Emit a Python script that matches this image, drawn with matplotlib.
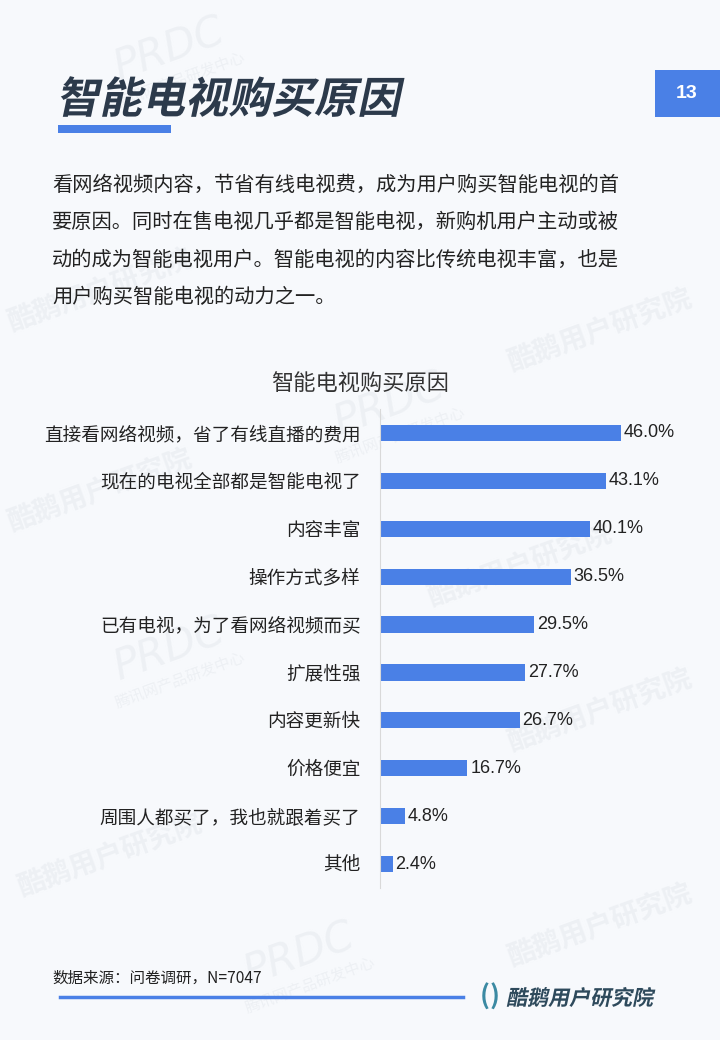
import matplotlib
matplotlib.use('Agg')
import matplotlib.pyplot as plt
from matplotlib.textpath import TextPath
from matplotlib.patches import PathPatch, Rectangle
from matplotlib.font_manager import FontProperties
from matplotlib.transforms import Affine2D
from matplotlib.lines import Line2D

plt.rcParams['font.family'] = ['Noto Sans CJK SC', 'DejaVu Sans']

categories = ['直接看网络视频，省了有线直播的费用', '现在的电视全部都是智能电视了', '内容丰富',
              '操作方式多样', '已有电视，为了看网络视频而买', '扩展性强', '内容更新快',
              '价格便宜', '周围人都买了，我也就跟着买了', '其他']
values = [46.0, 43.1, 40.1, 36.5, 29.5, 27.7, 26.7, 16.7, 4.8, 2.4]

page_title = '智能电视购买原因'
chart_title = '智能电视购买原因'
page_no = '13'
intro = ['看网络视频内容，节省有线电视费，成为用户购买智能电视的首',
         '要原因。同时在售电视几乎都是智能电视，新购机用户主动或被',
         '动的成为智能电视用户。智能电视的内容比传统电视丰富，也是',
         '用户购买智能电视的动力之一。']
source = '数据来源：问卷调研，N=7047'
brand = '酷鹅用户研究院'

W, H = 720, 1040
bg = '#f7f9fc'
blue = '#4a80e6'
dark = '#2c3a4b'

fig = plt.figure(figsize=(W / 100, H / 100), dpi=100, facecolor=bg)


def px(x, y):
    # image pixel coords (top-left origin) -> figure fraction
    return x / W, 1 - y / H


def slanted(text, x, y, size, color, skew=12, weight='bold'):
    fp = FontProperties(family='Noto Sans CJK SC', weight=weight)
    path = TextPath((0, 0), text, size=size, prop=fp)
    tr = Affine2D().skew_deg(skew, 0).translate(x, H - y)
    fig.add_artist(PathPatch(path, transform=tr, facecolor=color, edgecolor='none', zorder=3))


# faint watermarks, behind everything
wm = dict(color='#edf0f4', rotation=20, ha='center', va='center', zorder=-5)
for (x, y) in [(170, 50), (390, 405), (170, 650), (300, 955)]:
    fig.text(*px(x, y), 'PRDC', fontsize=30, family='DejaVu Sans', style='italic', **wm)
    fig.text(*px(x + 10, y + 30), '腾讯网产品研发中心', fontsize=11, **wm)
for (x, y) in [(600, 330), (520, 565), (600, 710), (600, 925), (110, 855), (100, 490), (100, 290)]:
    fig.text(*px(x, y), '酷鹅用户研究院', fontsize=20, weight='bold', **wm)

# header
slanted(page_title, 56, 113, 43, dark, weight='heavy')
fig.add_artist(Rectangle(px(58, 133), 113 / W, 8 / H, transform=fig.transFigure,
                         facecolor=blue, edgecolor='none'))
fig.add_artist(Rectangle(px(655, 117), 65 / W, 47 / H, transform=fig.transFigure,
                         facecolor=blue, edgecolor='none'))
fig.text(*px(687, 94), page_no, color='white', fontsize=14, weight='bold',
         family='Liberation Sans', ha='center', va='center')

for i, line in enumerate(intro):
    fig.text(*px(52, 185 + i * 37.5), line, fontsize=14.6, color='#222222', va='center')

fig.text(*px(360, 383), chart_title, fontsize=16, color='#333333', ha='center', va='center')

# bar chart
ax = fig.add_axes([380 / W, 1 - 888 / H, 314 / W, 479 / H])
ax.set_facecolor('none')
ax.set_zorder(2)
y = list(range(len(categories)))
ax.barh(y, values, height=0.34, color=blue)
ax.set_xlim(0, 60)
ax.set_ylim(len(categories) - 0.5, -0.5)
ax.set_yticks(y)
ax.set_yticklabels(categories, fontsize=13.4, color='#222222')
ax.tick_params(axis='y', length=0, pad=14)
ax.set_xticks([])
for s in ['top', 'right', 'bottom']:
    ax.spines[s].set_visible(False)
ax.spines['left'].set_color('#d9d9d9')
for yi, v in zip(y, values):
    ax.annotate(f'{v:.1f}%', (v, yi), xytext=(2, 0), textcoords='offset points',
                va='center', ha='left', fontsize=13, color='#222222', family='Liberation Sans')

# footer
fig.text(*px(52, 978), source, fontsize=11.2, color='#222222', va='center')
fig.add_artist(Line2D([60 / W, 463 / W], [1 - 997 / H] * 2, transform=fig.transFigure,
                      color=blue, lw=2.5))
teal = '#3b8aa3'
fig.text(*px(485, 997), '(', fontsize=19, color=teal, ha='center', va='center', weight='bold')
fig.text(*px(495, 997), ')', fontsize=19, color=teal, ha='center', va='center', weight='bold')
slanted(brand, 506, 1005, 21, '#2e4a5c')

fig.savefig('out.png', dpi=100, facecolor=bg)
